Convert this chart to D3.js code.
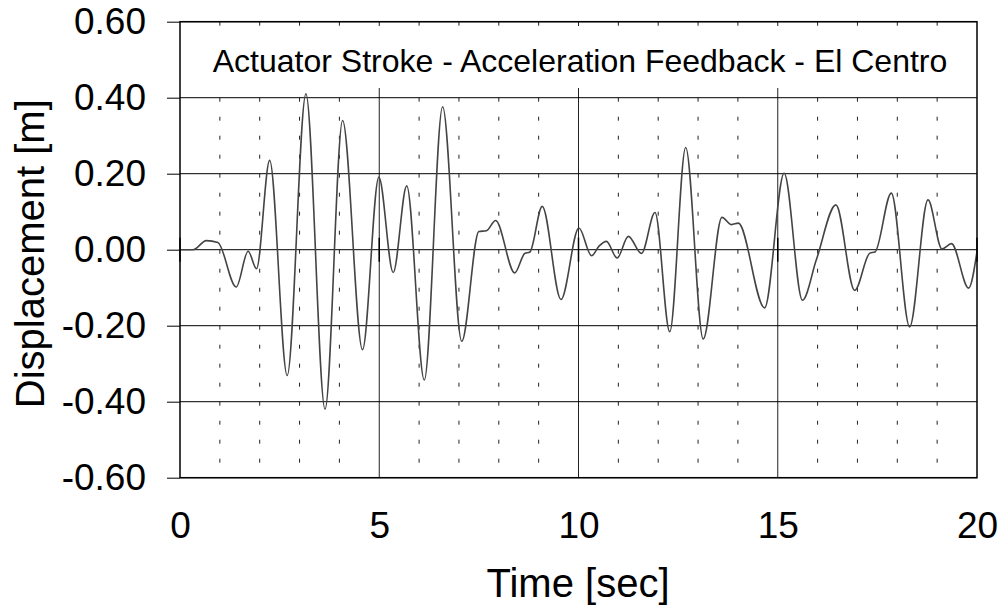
<!DOCTYPE html>
<html>
<head>
<meta charset="utf-8">
<script src="https://cdn.jsdelivr.net/npm/d3@7"></script>
<style>
  body { margin: 0; background: #fff; }
  svg { font-family: "Liberation Sans", Arial, sans-serif; }
</style>
</head>
<body>
<div id="chart"></div>
<script>
// time [sec] and stroke [m] (peaks, troughs, shoulders)
var times = [0, 0.33, 0.66, 0.95, 1.41, 1.71, 1.92, 2.25, 2.69, 3.16, 3.64, 4.08, 4.58, 4.99,
  5.35, 5.69, 6.13, 6.59, 7.07, 7.50, 7.69, 7.92, 8.40, 8.65, 8.78, 9.09, 9.56, 10.01, 10.33,
  10.52, 10.70, 10.97, 11.25, 11.58, 11.92, 12.29, 12.69, 13.13, 13.60, 13.84, 14.01, 14.67,
  15.16, 15.62, 15.97, 16.46, 16.93, 17.31, 17.44, 17.85, 18.31, 18.77, 19.12, 19.36, 19.79, 20.0];
var stroke = [0, 0, 0.024, 0.019, -0.098, -0.004, -0.050, 0.235, -0.331, 0.410, -0.420, 0.340, -0.263, 0.191,
  -0.060, 0.168, -0.343, 0.376, -0.241, 0.048, 0.050, 0.077, -0.061, -0.010, -0.006, 0.114, -0.131, 0.057, -0.016,
  0.010, 0.022, -0.022, 0.035, -0.010, 0.098, -0.216, 0.269, -0.235, 0.085, 0.066, 0.070, -0.153,
  0.201, -0.133, -0.026, 0.118, -0.107, -0.009, -0.006, 0.149, -0.203, 0.131, 0.002, 0.016, -0.101, -0.005];

var yTicks = [-0.6, -0.4, -0.2, 0, 0.2, 0.4, 0.6];
var yTickLabels = ["-0.60", "-0.40", "-0.20", "0.00", "0.20", "0.40", "0.60"];
var xTicks = [0, 5, 10, 15, 20];
var xTickLabels = ["0", "5", "10", "15", "20"];
var minorX = [1, 2, 3, 4, 6, 7, 8, 9, 11, 12, 13, 14, 16, 17, 18, 19];

var title = "Actuator Stroke - Acceleration Feedback - El Centro";

var width = 1007,
    height = 609,
    plotLeft = 180, plotRight = 977,
    plotTop = 21.7, plotBottom = 477.7;

var x = d3.scaleLinear().domain([0, 20]).range([plotLeft, plotRight]);
var y = d3.scaleLinear().domain([-0.6, 0.6]).range([plotBottom, plotTop]);

var svg = d3.select('#chart').append('svg')
  .attr('width', width)
  .attr('height', height);

// dotted 1 sec grid
svg.append('g').selectAll('line')
  .data(minorX).enter().append('line')
  .attr('x1', function(d) { return x(d); })
  .attr('x2', function(d) { return x(d); })
  .attr('y1', plotTop).attr('y2', plotBottom)
  .attr('stroke', '#222')
  .attr('stroke-width', 1)
  .attr('stroke-dasharray', '4,15');

// solid 5 sec grid
svg.append('g').selectAll('line')
  .data([5, 10, 15]).enter().append('line')
  .attr('x1', function(d) { return x(d); })
  .attr('x2', function(d) { return x(d); })
  .attr('y1', plotTop).attr('y2', plotBottom)
  .attr('stroke', '#222')
  .attr('stroke-width', 1);

// horizontal grid
svg.append('g').selectAll('line')
  .data(yTicks).enter().append('line')
  .attr('x1', plotLeft).attr('x2', plotRight)
  .attr('y1', function(d) { return y(d); })
  .attr('y2', function(d) { return y(d); })
  .attr('stroke', '#000')
  .attr('stroke-width', 1);

// title sits on a white box inside the plot
svg.append('rect')
  .attr('x', plotLeft + 1).attr('y', 26)
  .attr('width', plotRight - plotLeft - 2).attr('height', 62)
  .attr('fill', '#fff');

svg.append('text')
  .attr('x', 580).attr('y', 72)
  .attr('text-anchor', 'middle')
  .attr('font-size', 32)
  .attr('fill', '#000')
  .text(title);

// cross ticks on the zero line
svg.append('g').selectAll('line')
  .data(xTicks).enter().append('line')
  .attr('x1', function(d) { return x(d); })
  .attr('x2', function(d) { return x(d); })
  .attr('y1', y(0) - 12).attr('y2', y(0) + 12)
  .attr('stroke', '#000')
  .attr('stroke-width', 1.5);

// the trace
var line = d3.line()
  .x(function(d) { return x(d[0]); })
  .y(function(d) { return y(d[1]); })
  .curve(d3.curveMonotoneX);

svg.append('path')
  .datum(times.map(function(t, i) { return [t, stroke[i]]; }))
  .attr('d', line)
  .attr('fill', 'none')
  .attr('stroke', '#444')
  .attr('stroke-width', 1.6);

// frame
svg.append('rect')
  .attr('x', plotLeft).attr('y', plotTop)
  .attr('width', plotRight - plotLeft).attr('height', plotBottom - plotTop)
  .attr('fill', 'none')
  .attr('stroke', '#000')
  .attr('stroke-width', 1.5);

// y axis
var yAxis = d3.axisLeft(y)
  .tickValues(yTicks)
  .tickSize(13)
  .tickPadding(21)
  .tickFormat(function(d, i) { return yTickLabels[i]; });

var gy = svg.append('g')
  .attr('transform', 'translate(' + plotLeft + ',0)')
  .call(yAxis);
gy.select('.domain').remove();
gy.selectAll('line').attr('stroke', '#000');
gy.selectAll('text')
  .attr('font-size', 37)
  .attr('font-family', '"Liberation Sans", Arial, sans-serif')
  .attr('fill', '#000');

// x axis labels
var xAxis = d3.axisBottom(x)
  .tickValues(xTicks)
  .tickSize(0)
  .tickPadding(34)
  .tickFormat(function(d, i) { return xTickLabels[i]; });

var gx = svg.append('g')
  .attr('transform', 'translate(0,' + plotBottom + ')')
  .call(xAxis);
gx.select('.domain').remove();
gx.selectAll('text')
  .attr('font-size', 37)
  .attr('font-family', '"Liberation Sans", Arial, sans-serif')
  .attr('fill', '#000');

svg.append('text')
  .attr('x', 578).attr('y', 597)
  .attr('text-anchor', 'middle')
  .attr('font-size', 40)
  .attr('fill', '#000')
  .text('Time [sec]');

svg.append('text')
  .attr('transform', 'translate(44,' + (y(0) + 4) + ') rotate(-90)')
  .attr('text-anchor', 'middle')
  .attr('font-size', 40)
  .attr('fill', '#000')
  .text('Displacement [m]');
</script>
</body>
</html>
